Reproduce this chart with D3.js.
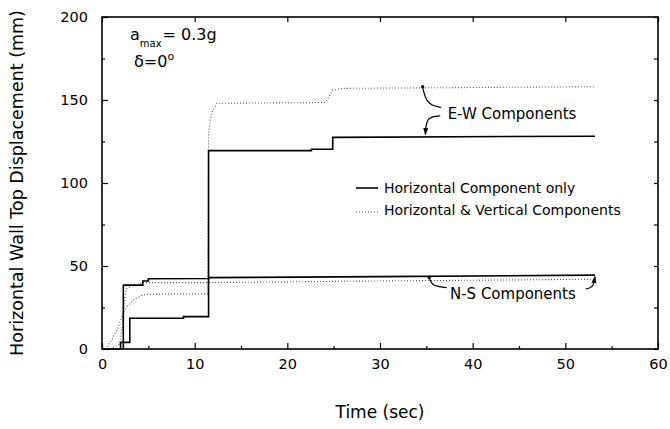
<!DOCTYPE html>
<html>
<head>
<meta charset="utf-8">
<script src="https://cdn.jsdelivr.net/npm/d3@7"></script>
<style>
  body { margin: 0; background: #fff; }
  text { font-family: "DejaVu Sans", sans-serif; fill: #000; }
</style>
</head>
<body>
<div id="chart"></div>
<script>
// time (sec), displacement (mm)
const ewHorizOnly = [[0,0],[2.0,0],[2.0,4],[3.0,4],[3.0,18.5],[8.8,18.5],[8.8,19.5],[11.5,19.5],[11.5,119.5],
  [22.6,119.5],[22.6,120.3],[24.9,120.3],[24.9,127.5],[53.2,128.2]];
const ewHorizVert = [[0.35,0],[1.0,5],[1.7,12.5],[2.3,22],[2.8,26],[3.5,30],[4.4,32.5],[5.0,33],[11.4,33.2],
  [11.5,130],[11.8,142],[12.4,148],[24.1,148.5],[24.5,152],[24.9,156],[26,157],[53.2,158]];
const nsHorizOnly = [[2.3,0],[2.3,38.5],[4.4,38.5],[4.4,41],[5.0,41],[5.0,42.3],[11.5,42.5],[11.5,43],
  [30,43.6],[53.2,44.5]];
const nsHorizVert = [[0.9,0],[1.9,3],[2.2,14],[2.4,28],[2.6,36],[3.2,38],[4.6,40],[11.5,40],
  [30,41],[53.2,42]];

const xMajor = [0, 10, 20, 30, 40, 50, 60];
const xMinor = [5, 15, 25, 35, 45, 55];
const yMajor = [0, 50, 100, 150, 200];
const yMinor = [25, 75, 125, 175];

const legendLabels = ["Horizontal Component only", "Horizontal & Vertical Components"];

const W = 670, H = 429;
const plot = {left: 102, right: 658, top: 17, bottom: 349};

const svg = d3.select("#chart").append("svg")
  .attr("width", W).attr("height", H);

const x = d3.scaleLinear().domain([0, 60]).range([plot.left, plot.right]);
const y = d3.scaleLinear().domain([0, 200]).range([plot.bottom, plot.top]);

// arrow marker
svg.append("defs").append("marker")
  .attr("id", "arr").attr("viewBox", "0 0 10 10")
  .attr("refX", 9).attr("refY", 5)
  .attr("markerWidth", 6).attr("markerHeight", 6)
  .attr("orient", "auto-start-reverse")
  .append("path").attr("d", "M0,1.5 L10,5 L0,8.5 Z").attr("fill", "#000");

// axes, ticks pointing inward
function styleAxis(g) {
  g.select(".domain").remove();
  g.selectAll("line").attr("stroke", "#000").attr("stroke-width", 1.2);
  g.selectAll("text").style("font-size", "14.5px").attr("fill", "#000");
}

svg.append("g").attr("transform", `translate(0,${plot.bottom})`)
  .call(d3.axisBottom(x).tickValues(xMajor).tickSize(-6).tickPadding(10).tickFormat(d3.format("d")))
  .call(styleAxis);
svg.append("g").attr("transform", `translate(0,${plot.bottom})`)
  .call(d3.axisBottom(x).tickValues(xMinor).tickSize(-3).tickFormat(""))
  .call(styleAxis);
svg.append("g").attr("transform", `translate(0,${plot.top})`)
  .call(d3.axisTop(x).tickValues(xMajor).tickSize(-5).tickFormat(""))
  .call(styleAxis);
svg.append("g").attr("transform", `translate(${plot.left},0)`)
  .call(d3.axisLeft(y).tickValues(yMajor).tickSize(-6).tickPadding(14).tickFormat(d3.format("d")))
  .call(styleAxis);
svg.append("g").attr("transform", `translate(${plot.left},0)`)
  .call(d3.axisLeft(y).tickValues(yMinor).tickSize(-3).tickFormat(""))
  .call(styleAxis);
svg.append("g").attr("transform", `translate(${plot.right},0)`)
  .call(d3.axisRight(y).tickValues(yMajor.concat(yMinor)).tickSize(-4).tickFormat(""))
  .call(styleAxis);

// frame
svg.append("rect")
  .attr("x", plot.left).attr("y", plot.top)
  .attr("width", plot.right - plot.left).attr("height", plot.bottom - plot.top)
  .attr("fill", "none").attr("stroke", "#000").attr("stroke-width", 1.6);

// curves
const line = d3.line().x(d => x(d[0])).y(d => y(d[1]));

const dotted = {stroke: "#555", width: 1.1, dash: "1,2"};
const solid = {stroke: "#000", width: 1.6, dash: null};

[[ewHorizVert, dotted], [nsHorizVert, dotted], [ewHorizOnly, solid], [nsHorizOnly, solid]]
  .forEach(([data, st]) => {
    svg.append("path").datum(data)
      .attr("d", line)
      .attr("fill", "none")
      .attr("stroke", st.stroke)
      .attr("stroke-width", st.width)
      .attr("stroke-dasharray", st.dash);
  });

// legend
const leg = svg.append("g").attr("transform", "translate(356,188)");
[solid, dotted].forEach((st, i) => {
  leg.append("line")
    .attr("x1", 0).attr("x2", 22).attr("y1", i * 24).attr("y2", i * 24)
    .attr("stroke", st.stroke).attr("stroke-width", st.width)
    .attr("stroke-dasharray", st.dash);
  leg.append("text")
    .attr("x", 28).attr("y", i * 22 + 5)
    .style("font-size", "14px")
    .text(legendLabels[i]);
});

// annotations (in data units)
const curve = d3.line().x(d => x(d[0])).y(d => y(d[1])).curve(d3.curveBasis);
const notes = [
  {pts: [[34.6,158],[35.0,147.5],[36.6,145.5]], arrow: false},
  {pts: [[36.5,140.4],[35.0,140.0],[34.9,129.2]], arrow: true},
  {pts: [[35.3,43.0],[35.6,37.8],[37.2,37.0]], arrow: false},
  {pts: [[52.2,36.2],[53.0,36.8],[53.2,43.6]], arrow: true}
];
notes.forEach(n => {
  svg.append("path").datum(n.pts)
    .attr("d", curve)
    .attr("fill", "none").attr("stroke", "#000").attr("stroke-width", 1.2)
    .attr("marker-end", n.arrow ? "url(#arr)" : null);
  if (!n.arrow) {
    svg.append("circle").attr("cx", x(n.pts[0][0])).attr("cy", y(n.pts[0][1]))
      .attr("r", 1.6).attr("fill", "#000");
  }
});

svg.append("text").attr("x", x(37.3)).attr("y", y(138.5))
  .style("font-size", "15px").text("E-W Components");
svg.append("text").attr("x", x(37.55)).attr("y", y(30.1))
  .style("font-size", "15px").text("N-S Components");

// a_max, delta
const t1 = svg.append("text").attr("x", 130).attr("y", 40).style("font-size", "16px");
t1.append("tspan").text("a");
t1.append("tspan").attr("dy", 7).style("font-size", "10px").text("max");
t1.append("tspan").attr("dy", -7).attr("dx", 1).text("= 0.3g");

const t2 = svg.append("text").attr("x", 134).attr("y", 67).style("font-size", "16px");
t2.append("tspan").text("δ=0");
t2.append("tspan").attr("dy", -7).style("font-size", "11px").text("o");

// axis titles
svg.append("text")
  .attr("x", (plot.left + plot.right) / 2).attr("y", 418)
  .attr("text-anchor", "middle").style("font-size", "17px")
  .text("Time (sec)");
svg.append("text")
  .attr("transform", `translate(23,${(plot.top + plot.bottom) / 2}) rotate(-90)`)
  .attr("text-anchor", "middle").style("font-size", "17.5px")
  .text("Horizontal Wall Top Displacement (mm)");
</script>
</body>
</html>
